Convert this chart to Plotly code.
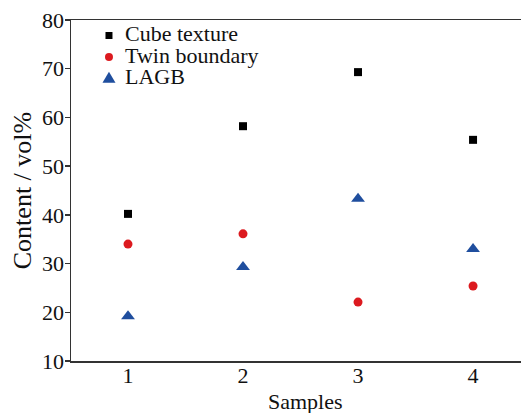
import plotly.graph_objects as go

samples = [1, 2, 3, 4]
cube_texture = [40.2, 58.2, 69.3, 55.4]
twin_boundary = [34.0, 36.1, 22.1, 25.4]
lagb = [19.2, 29.3, 43.3, 33.0]
y_ticks = [10, 20, 30, 40, 50, 60, 70, 80]
series_names = ["Cube texture", "Twin boundary", "LAGB"]
series_colors = ["#000000", "#dc1a1f", "#1f4e9e"]

font = "Liberation Serif, Times New Roman, serif"
FS = 22
AX = "#333333"

fig = go.Figure()
fig.add_trace(go.Scatter(x=samples, y=cube_texture, mode="markers", name=series_names[0],
                         marker=dict(symbol="square", size=8, color=series_colors[0])))
fig.add_trace(go.Scatter(x=samples, y=twin_boundary, mode="markers", name=series_names[1],
                         marker=dict(symbol="circle", size=9, color=series_colors[1])))
fig.add_trace(go.Scatter(x=samples, y=lagb, mode="markers", name=series_names[2],
                         marker=dict(symbol="triangle-up", size=12, color=series_colors[2])))

# manual legend (compact rows like the reference)
mx = 0.0844
rows_y = [0.9545, 0.8915, 0.826]
text_y = [0.961, 0.8965, 0.833]
shapes = [
    dict(type="rect", xref="paper", yref="paper", xsizemode="pixel", ysizemode="pixel",
         xanchor=mx, yanchor=rows_y[0], x0=-3.5, x1=3.5, y0=-3.5, y1=3.5,
         fillcolor=series_colors[0], line=dict(width=0)),
    dict(type="circle", xref="paper", yref="paper", xsizemode="pixel", ysizemode="pixel",
         xanchor=mx, yanchor=rows_y[1], x0=-4, x1=4, y0=-4, y1=4,
         fillcolor=series_colors[1], line=dict(width=0)),
    dict(type="path", xref="paper", yref="paper", xsizemode="pixel", ysizemode="pixel",
         xanchor=mx, yanchor=rows_y[2], path="M -6.5 -3.5 L 6.5 -3.5 L 0 7.5 Z",
         fillcolor=series_colors[2], line=dict(width=0)),
]
annotations = [
    dict(text=n, xref="paper", yref="paper", x=0.1156, y=ty, xanchor="left", yanchor="middle",
         showarrow=False, font=dict(family=font, size=FS, color="#111111"))
    for n, ty in zip(series_names, text_y)
]
annotations.append(
    dict(text="Samples", xref="paper", yref="paper", x=0.522, y=-0.118,
         xanchor="center", yanchor="middle", showarrow=False,
         font=dict(family=font, size=FS, color="#111111"))
)

fig.update_layout(
    width=521, height=413,
    margin=dict(l=71, r=0, t=20, b=52),
    plot_bgcolor="white", paper_bgcolor="white",
    font=dict(family=font, size=FS, color="#111111"),
    showlegend=False,
    hovermode=False,
    dragmode=False,
    shapes=shapes,
    annotations=annotations,
    xaxis=dict(range=[0.5044, 4.417], tickvals=samples, showgrid=False, zeroline=False,
               showline=True, linecolor=AX, linewidth=1.5, mirror=True,
               ticks="", ticklen=0, automargin=False, ticklabelstandoff=-6,
               showspikes=False),
    yaxis=dict(range=[10, 80], tickvals=y_ticks, showgrid=False, zeroline=False,
               showline=True, linecolor=AX, linewidth=1.5, mirror=False,
               ticks="outside", ticklen=5, tickcolor=AX, tickwidth=1.5,
               automargin=False, ticklabeloverflow="allow", ticklabelstandoff=-4,
               showspikes=False,
               title=dict(text="Content / vol%", standoff=3)),
)

# remove the default 8px page margin so the figure fills the window exactly
fig.write_html("out.html", config={"displayModeBar": False, "staticPlot": True},
               post_script="document.body.style.margin='0';")
